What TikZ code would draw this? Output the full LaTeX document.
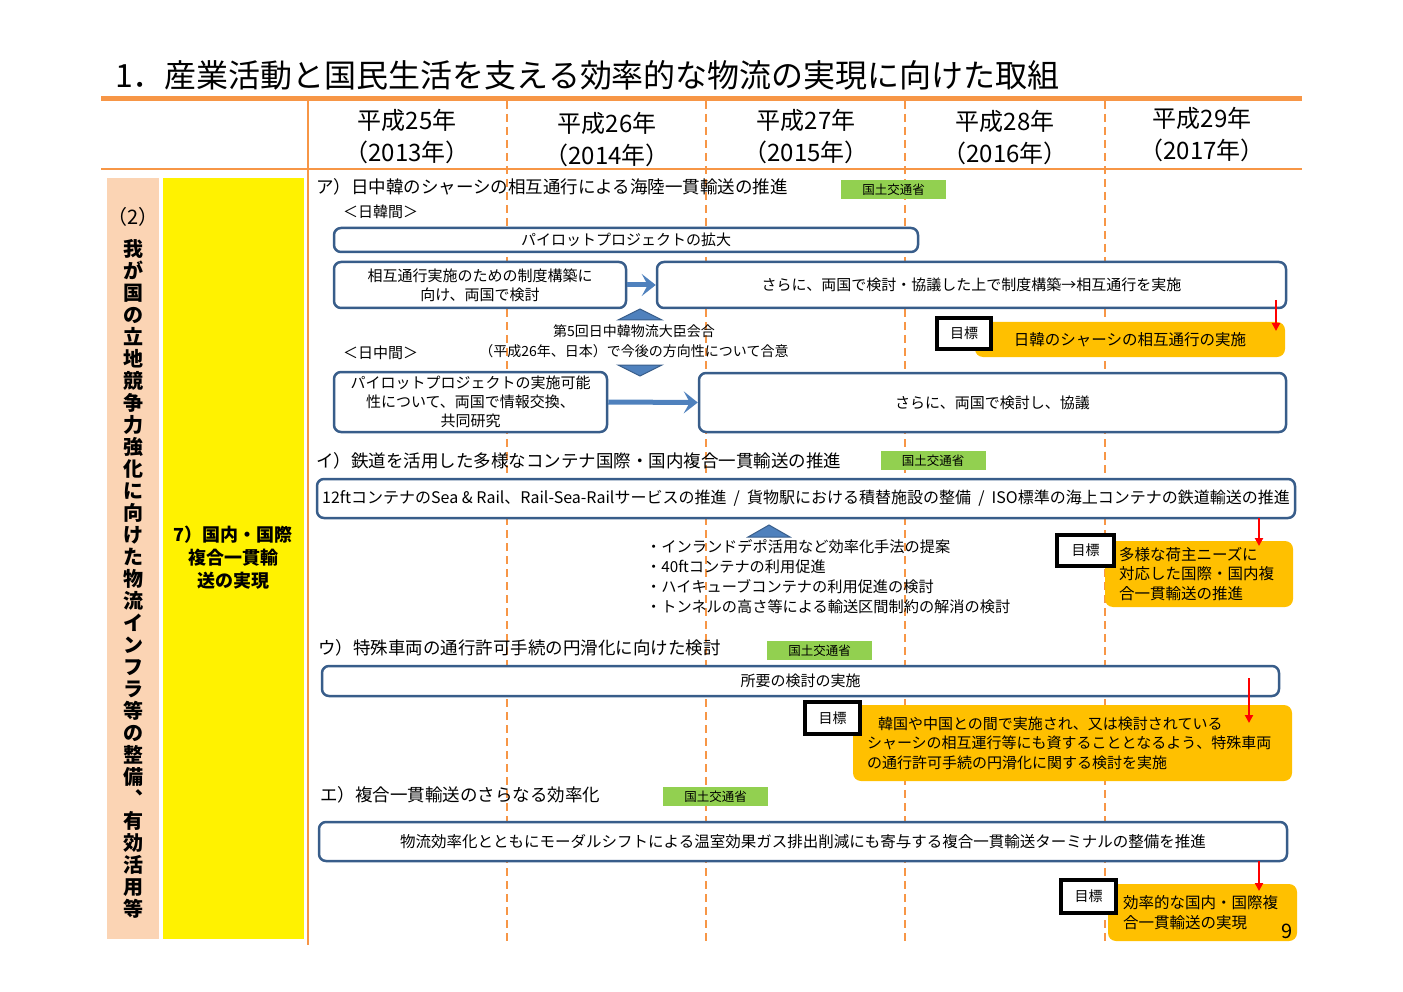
\documentclass[tikz,border=0pt]{standalone}
\usepackage{fontspec}
\setmainfont{Noto Sans CJK JP}
\usepackage{tikz}
\usetikzlibrary{arrows.meta,positioning,calc}
\definecolor{lineorange}{HTML}{F79646}
\definecolor{peach}{HTML}{FBD4B4}
\definecolor{boxblue}{HTML}{385D8A}
\definecolor{arrowblue}{HTML}{4F81BD}
\definecolor{taggreen}{HTML}{92D050}
\definecolor{goalorange}{HTML}{FFC000}

\begin{document}
\begin{tikzpicture}[x=1pt,y=-1pt]
    \tikzstyle{bar}=[draw=boxblue, line width=2.5pt, rounded corners=7pt, fill=white, inner sep=0pt, align=center, font=\fontsize{15}{19}\selectfont]
    \tikzstyle{head}=[anchor=west, inner sep=0pt, font=\fontsize{17.5}{20}\selectfont]
    \tikzstyle{tag}=[fill=taggreen, inner sep=0pt, minimum width=105pt, minimum height=19pt, font=\fontsize{12.5}{14}\selectfont]
    \tikzstyle{goal}=[draw=black, line width=3.5pt, fill=white, inner sep=0pt, font=\fontsize{14}{16}\selectfont]
    \tikzstyle{result}=[fill=goalorange, rounded corners=8pt, inner sep=0pt, font=\fontsize{15.5}{19.5}\selectfont]
    \tikzstyle{blk}=[draw=arrowblue, line width=5pt, -{Stealth[length=14pt,width=22pt,inset=6pt]}]
    \tikzstyle{redarrow}=[draw=red, line width=2pt, -{Triangle[length=8pt,width=8pt]}]
    \tikzstyle{chev}=[fill=arrowblue, draw=boxblue, line width=1pt]
    \useasboundingbox (0,0) rectangle (1403,992);

    \node[anchor=west, inner sep=0pt, font=\fontsize{32}{36}\selectfont] (title) at (115,75) {1．産業活動と国民生活を支える効率的な物流の実現に向けた取組};
    \draw[lineorange, line width=5pt] (101,99) -- (1302,99);
    \draw[lineorange, line width=2.5pt] (101,169) -- (1302,169);
    \draw[lineorange, line width=2pt] (308,101) -- (308,945);
    \foreach \x in {507,706,905,1105} {
        \draw[lineorange, line width=2pt, dash pattern=on 8pt off 5pt] (\x,101) -- (\x,945);
    }
    \foreach \x/\y/\h/\g in {407/137/25/2013,607/140/26/2014,806/137/27/2015,1005/138/28/2016,1202/135/29/2017} {
        \node[align=center, font=\fontsize{24}{32}\selectfont] (y\h) at (\x,\y) {平成\h 年\\（\g 年）};
    }

    \fill[peach] (107,178) rectangle (159,939);
    \fill[yellow] (163,178) rectangle (304,939);
    \node[font=\fontsize{20}{22}\selectfont] (sub) at (133,217) {（2）};
    \foreach \c [count=\i] in {我,が,国,の,立,地,競,争,力,強,化,に,向,け,た,物,流,イ,ン,フ,ラ,等,の,整,備,︑,有,効,活,用,等} {
        \node[inner sep=0pt, text height=15pt, text depth=4pt, font=\bfseries\fontsize{20}{21}\selectfont] (v\i) at (133,229+22*\i) {\c};
    }
    \node[align=center, font=\bfseries\fontsize{18}{23}\selectfont] (item) at (233,558) {7）国内・国際\\複合一貫輸\\送の実現};

    \node[head] (secA) at (316,187) {ア）日中韓のシャーシの相互通行による海陸一貫輸送の推進};
    \node[tag] (tagA) at (893.5,189.5) {国土交通省};
    \node[head, font=\fontsize{15}{18}\selectfont] (kr) at (343,212) {＜日韓間＞};
    \node[bar, minimum width=584pt, minimum height=24pt] (pA1) at (626,240) {パイロットプロジェクトの拡大};
    \node[bar, minimum width=292pt, minimum height=46pt] (pA2) at (480,285) {相互通行実施のための制度構築に\\向け、両国で検討};
    \node[bar, minimum width=629pt, minimum height=46pt] (pA3) at (971.5,285) {さらに、両国で検討・協議した上で制度構築→相互通行を実施};
    \draw[blk] (pA2.east) -- (pA3.west);
    \fill[chev] (618,320) -- (640,309) -- (662,320) -- cycle;
    \node[align=center, font=\fontsize{14}{20}\selectfont] (meet) at (634,341) {第5回日中韓物流大臣会合\\（平成26年、日本）で今後の方向性について合意};
    \fill[chev] (618,365) -- (640,376) -- (662,365) -- cycle;
    \node[head, font=\fontsize{15}{18}\selectfont] (cn) at (343,353) {＜日中間＞};
    \node[result, minimum width=310pt, minimum height=35pt] (resA) at (1130,339.5) {日韓のシャーシの相互通行の実施};
    \node[goal, minimum width=54pt, minimum height=31pt] (goalA) at (964,333.5) {目標};
    \coordinate (rA1) at (1276,300);
    \coordinate (rA2) at (1276,331);
    \draw[redarrow] (rA1) -- (rA2);
    \node[bar, minimum width=273pt, minimum height=60pt] (pB1) at (470.5,402) {パイロットプロジェクトの実施可能\\性について、両国で情報交換、\\共同研究};
    \node[bar, minimum width=587pt, minimum height=59pt] (pB2) at (992.5,402.5) {さらに、両国で検討し、協議};
    \draw[blk] (pB1.east) -- (pB2.west);

    \node[head] (secB) at (316,461) {イ）鉄道を活用した多様なコンテナ国際・国内複合一貫輸送の推進};
    \node[tag] (tagB) at (933,460.5) {国土交通省};
    \node[bar, minimum width=978pt, minimum height=39pt, font=\fontsize{16}{19}\selectfont] (pC) at (806,498.5) {12ftコンテナのSea \& Rail、Rail-Sea-Railサービスの推進 \ / \ 貨物駅における積替施設の整備 \ / \ ISO標準の海上コンテナの鉄道輸送の推進};
    \fill[chev] (748,537) -- (769,525) -- (790,537) -- cycle;
    \node[anchor=north west, align=left, inner sep=0pt, font=\fontsize{15.2}{20}\selectfont] (plan) at (646,539) {・インランドデポ活用など効率化手法の提案\\・40ftコンテナの利用促進\\・ハイキューブコンテナの利用促進の検討\\・トンネルの高さ等による輸送区間制約の解消の検討};
    \node[result, minimum width=188pt, minimum height=66pt, text width=160pt, align=left] (resB) at (1199,574) {多様な荷主ニーズに\\対応した国際・国内複\\合一貫輸送の推進};
    \node[goal, minimum width=57pt, minimum height=31pt] (goalB) at (1085.5,550.5) {目標};
    \coordinate (rB1) at (1259,518);
    \coordinate (rB2) at (1259,546);
    \draw[redarrow] (rB1) -- (rB2);

    \node[head] (secC) at (318,648) {ウ）特殊車両の通行許可手続の円滑化に向けた検討};
    \node[tag] (tagC) at (819.5,650.5) {国土交通省};
    \node[bar, minimum width=957pt, minimum height=30pt] (pD) at (800.5,681) {所要の検討の実施};
    \node[result, minimum width=439pt, minimum height=76pt, text width=411pt, align=left, font=\fontsize{15}{19.5}\selectfont] (resC) at (1072.5,743) {\hspace{11pt}韓国や中国との間で実施され、又は検討されている\\シャーシの相互運行等にも資することとなるよう、特殊車両\\の通行許可手続の円滑化に関する検討を実施};
    \node[goal, minimum width=55pt, minimum height=32pt] (goalC) at (832.5,718) {目標};
    \coordinate (rC1) at (1249,678);
    \coordinate (rC2) at (1249,723);
    \draw[redarrow] (rC1) -- (rC2);

    \node[head] (secD) at (320,795) {エ）複合一貫輸送のさらなる効率化};
    \node[tag] (tagD) at (715.5,796.5) {国土交通省};
    \node[bar, minimum width=968pt, minimum height=39pt, font=\fontsize{15.5}{19}\selectfont] (pE) at (803,841.5) {物流効率化とともにモーダルシフトによる温室効果ガス排出削減にも寄与する複合一貫輸送ターミナルの整備を推進};
    \node[result, minimum width=189pt, minimum height=57pt, text width=159pt, align=left] (resD) at (1202.5,912.5) {効率的な国内・国際複\\合一貫輸送の実現};
    \node[goal, minimum width=55pt, minimum height=33pt] (goalD) at (1088.5,896.5) {目標};
    \coordinate (rD1) at (1259,861);
    \coordinate (rD2) at (1259,891);
    \draw[redarrow] (rD1) -- (rD2);
    \node[font=\fontsize{20}{22}\selectfont] (page) at (1287,931) {9};
\end{tikzpicture}
\end{document}
